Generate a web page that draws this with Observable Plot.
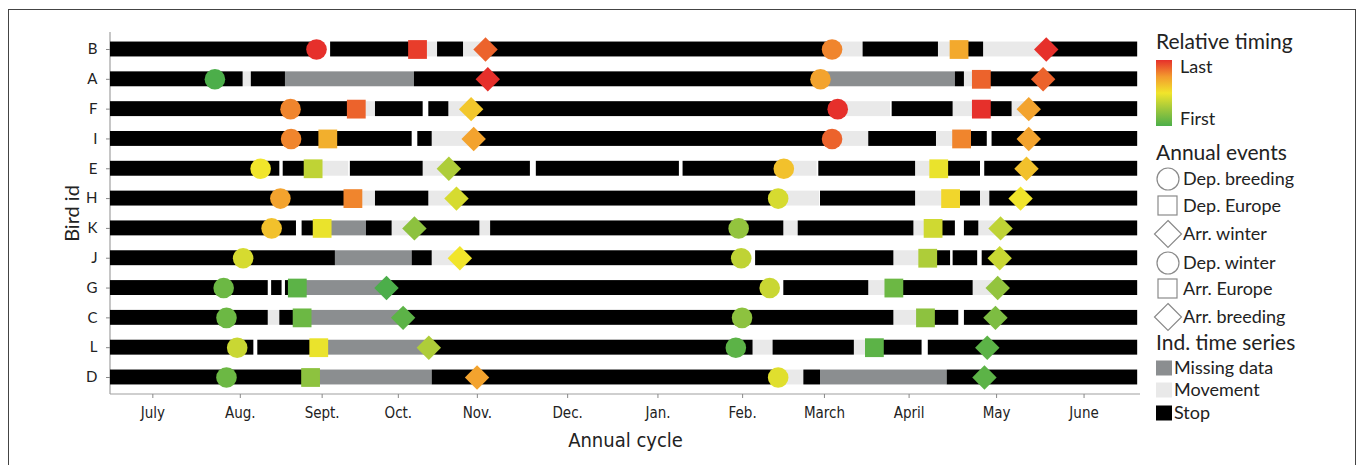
<!DOCTYPE html>
<html><head><meta charset="utf-8">
<script src="https://cdn.jsdelivr.net/npm/d3@7"></script>
<script src="https://cdn.jsdelivr.net/npm/@observablehq/plot@0.6"></script>
<style>
body{margin:0;background:#fff;width:1360px;height:465px;overflow:hidden;position:relative;font-family:Lato,"Open Sans",sans-serif;}
#frame{position:absolute;left:8px;top:9px;width:1348px;height:520px;border:1.5px solid #444;box-sizing:border-box;}
#chart{position:absolute;left:0;top:0;}
#legend{position:absolute;left:0;top:0;}
#chart svg{font-family:Lato,sans-serif;color:#222;background:transparent;}
#chart g[aria-label="y-axis tick label"] text{font-size:15px;fill:#222;}
#chart g[aria-label="y-axis label"] text{font-size:20px;fill:#222;}
#chart g[aria-label="x-axis tick label"] text{font-family:"Liberation Sans Narrow","DejaVu Sans Condensed",sans-serif;font-size:15px;fill:#222;}
#chart g[aria-label="x-axis label"] text{font-family:"Liberation Sans Narrow","DejaVu Sans Condensed",sans-serif;font-size:20px;fill:#222;}
</style></head><body>
<div id="frame"></div>
<div id="chart"></div>
<svg id="legend" width="1360" height="465"></svg>
<script>
// ---------- data ----------
const birds = ["B","A","F","I","E","H","K","J","G","C","L","D"];
const monthLabels = ["July","Aug.","Sept.","Oct.","Nov.","Dec.","Jan.","Feb.","March","April","May","June"];
const monthTickDays = [15, 46, 75, 102, 130, 162, 194, 224, 253, 283, 314, 345]; // days since 1 July
const eventTypes = ["Dep. breeding","Dep. Europe","Arr. winter","Dep. winter","Arr. Europe","Arr. breeding"];
const seriesTypes = ["Missing data","Movement","Stop"];

// segments per bird: [start day, end day, type]
const segmentsB = [[0,73.0,"Stop"],[78.0,108.8,"Stop"],[108.8,115.9,"Movement"],[115.9,125.1,"Stop"],[125.1,132.9,"Movement"],[132.9,255.7,"Stop"],[255.7,266.7,"Movement"],[266.7,293.4,"Stop"],[293.4,300.7,"Movement"],[300.7,309.4,"Stop"],[309.4,331.6,"Movement"],[331.6,364,"Stop"]];
const segmentsA = [[0,47.0,"Stop"],[47.0,49.9,"Movement"],[49.9,62.0,"Stop"],[62.0,107.7,"Missing data"],[107.7,251.6,"Stop"],[251.6,299.4,"Missing data"],[299.4,302.6,"Stop"],[302.6,308.6,"Movement"],[308.6,364,"Stop"]];
const segmentsF = [[0,87.1,"Stop"],[87.1,93.9,"Movement"],[93.9,110.8,"Stop"],[112.8,119.9,"Stop"],[119.9,127.8,"Movement"],[127.8,257.7,"Stop"],[257.7,276.4,"Movement"],[277.0,298.6,"Stop"],[298.6,308.6,"Movement"],[308.6,319.5,"Stop"],[319.5,325.4,"Movement"],[325.4,364,"Stop"]];
const segmentsI = [[0,106.9,"Stop"],[108.9,114.0,"Stop"],[114.0,128.7,"Movement"],[128.7,255.7,"Stop"],[255.7,268.7,"Movement"],[268.7,292.7,"Stop"],[292.7,301.6,"Movement"],[301.6,310.7,"Stop"],[312.4,364,"Stop"]];
const segmentsE = [[0,60.0,"Stop"],[61.2,71.8,"Stop"],[71.8,84.4,"Movement"],[85.0,110.8,"Stop"],[110.8,119.9,"Movement"],[119.9,148.8,"Stop"],[150.9,201.6,"Stop"],[202.9,238.6,"Stop"],[238.6,250.4,"Movement"],[251.0,285.3,"Stop"],[285.3,293.5,"Movement"],[293.5,308.3,"Stop"],[309.8,364,"Stop"]];
const segmentsH = [[0,85.9,"Stop"],[85.9,93.9,"Movement"],[93.9,112.8,"Stop"],[112.8,122.6,"Movement"],[122.6,236.6,"Stop"],[236.6,251.3,"Movement"],[251.6,285.3,"Stop"],[285.3,297.7,"Movement"],[297.7,308.3,"Stop"],[308.3,311.6,"Movement"],[311.6,364,"Stop"]];
const segmentsK = [[0,65.9,"Stop"],[67.9,75.0,"Stop"],[75.0,90.7,"Missing data"],[90.7,99.8,"Stop"],[99.8,107.7,"Movement"],[107.7,130.9,"Stop"],[130.9,134.7,"Movement"],[134.7,238.6,"Stop"],[238.6,243.7,"Movement"],[243.7,284.7,"Stop"],[284.7,291.5,"Movement"],[291.5,299.4,"Stop"],[302.6,307.7,"Stop"],[307.7,315.4,"Movement"],[315.4,364,"Stop"]];
const segmentsJ = [[0,79.7,"Stop"],[79.7,106.9,"Missing data"],[106.9,114.0,"Stop"],[114.0,123.8,"Movement"],[123.8,223.5,"Stop"],[228.6,277.6,"Stop"],[277.6,289.6,"Movement"],[289.6,297.7,"Stop"],[298.6,307.3,"Stop"],[308.9,364,"Stop"]];
const segmentsG = [[0,55.9,"Stop"],[57.1,60.8,"Stop"],[62.0,66.2,"Stop"],[66.2,97.8,"Missing data"],[97.8,233.6,"Stop"],[238.6,268.7,"Stop"],[268.7,277.6,"Movement"],[277.6,305.7,"Stop"],[305.7,314.4,"Movement"],[314.4,364,"Stop"]];
const segmentsC = [[0,55.9,"Stop"],[55.9,60.0,"Movement"],[60.0,67.9,"Stop"],[67.9,103.7,"Missing data"],[103.7,277.6,"Stop"],[277.6,288.8,"Movement"],[288.8,300.6,"Stop"],[302.6,364,"Stop"]];
const segmentsL = [[0,50.8,"Stop"],[52.2,73.8,"Stop"],[73.8,112.8,"Missing data"],[112.8,227.7,"Stop"],[227.7,234.8,"Movement"],[234.8,263.6,"Stop"],[263.6,270.7,"Movement"],[270.7,287.6,"Stop"],[289.8,364,"Stop"]];
const segmentsD = [[0,70.9,"Stop"],[70.9,114.0,"Missing data"],[114.0,236.6,"Stop"],[236.6,245.7,"Movement"],[245.7,251.6,"Stop"],[251.6,296.5,"Missing data"],[296.5,364,"Stop"]];

// annual events per bird: [event, day, relative timing 0 = first .. 1 = last]
const eventsB = [["Dep. breeding",73.0,1.0],["Dep. Europe",108.8,0.97],["Arr. winter",132.9,0.88],["Dep. winter",255.7,0.8],["Arr. Europe",300.7,0.7],["Arr. breeding",331.6,1.0]];
const eventsA = [["Dep. breeding",37.0,0.0],["Arr. winter",133.7,1.0],["Dep. winter",251.6,0.72],["Arr. Europe",308.6,0.88],["Arr. breeding",330.5,0.88]];
const eventsF = [["Dep. breeding",63.8,0.8],["Dep. Europe",87.1,0.88],["Arr. winter",127.8,0.6],["Dep. winter",257.7,1.0],["Arr. Europe",308.6,1.0],["Arr. breeding",325.4,0.72]];
const eventsI = [["Dep. breeding",64.0,0.8],["Dep. Europe",77.0,0.68],["Arr. winter",128.7,0.72],["Dep. winter",255.7,0.88],["Arr. Europe",301.6,0.8],["Arr. breeding",325.4,0.72]];
const eventsE = [["Dep. breeding",53.2,0.5],["Dep. Europe",71.8,0.35],["Arr. winter",119.9,0.3],["Dep. winter",238.6,0.62],["Arr. Europe",293.5,0.48],["Arr. breeding",324.6,0.62]];
const eventsH = [["Dep. breeding",60.2,0.72],["Dep. Europe",85.9,0.8],["Arr. winter",122.6,0.42],["Dep. winter",236.6,0.42],["Arr. Europe",297.7,0.55],["Arr. breeding",322.5,0.5]];
const eventsK = [["Dep. breeding",57.1,0.62],["Dep. Europe",75.0,0.48],["Arr. winter",107.7,0.2],["Dep. winter",222.6,0.22],["Arr. Europe",291.5,0.4],["Arr. breeding",315.4,0.35]];
const eventsJ = [["Dep. breeding",47.0,0.42],["Arr. winter",123.8,0.5],["Dep. winter",223.5,0.35],["Arr. Europe",289.6,0.3],["Arr. breeding",315.1,0.38]];
const eventsG = [["Dep. breeding",40.1,0.1],["Dep. Europe",66.2,0.05],["Arr. winter",97.8,0.0],["Dep. winter",233.6,0.38],["Arr. Europe",277.6,0.1],["Arr. breeding",314.4,0.22]];
const eventsC = [["Dep. breeding",41.1,0.1],["Dep. Europe",67.9,0.1],["Arr. winter",103.7,0.05],["Dep. winter",223.8,0.2],["Arr. Europe",288.8,0.2],["Arr. breeding",313.6,0.15]];
const eventsL = [["Dep. breeding",44.9,0.38],["Dep. Europe",73.8,0.48],["Arr. winter",112.8,0.3],["Dep. winter",221.6,0.05],["Arr. Europe",270.7,0.05],["Arr. breeding",310.7,0.05]];
const eventsD = [["Dep. breeding",41.1,0.1],["Dep. Europe",70.9,0.2],["Arr. winter",129.9,0.72],["Dep. winter",236.6,0.45],["Arr. breeding",309.7,0.05]];

const timingStops = [0, 0.25, 0.5, 0.75, 1];
const timingColors = ["#4cae4a","#9dc73c","#f1e52b","#f39a2e","#e6302b"];
const seriesColors = {"Missing data":"#8b8e90","Movement":"#e9e9e9","Stop":"#000000"};
const eventSymbols = {"Dep. breeding":"circle","Dep. winter":"circle","Dep. Europe":"square","Arr. Europe":"square","Arr. winter":"diamond2","Arr. breeding":"diamond2"};

// ---------- tables ----------
const segmentsByBird = {B:segmentsB,A:segmentsA,F:segmentsF,I:segmentsI,E:segmentsE,H:segmentsH,K:segmentsK,J:segmentsJ,G:segmentsG,C:segmentsC,L:segmentsL,D:segmentsD};
const eventsByBird = {B:eventsB,A:eventsA,F:eventsF,I:eventsI,E:eventsE,H:eventsH,K:eventsK,J:eventsJ,G:eventsG,C:eventsC,L:eventsL,D:eventsD};
const segs = birds.flatMap(b => segmentsByBird[b].map(([start,end,type]) => ({bird:b,start,end,type})));
const events = birds.flatMap(b => eventsByBird[b].map(([event,day,t]) => ({bird:b,event,day,t,symbol:eventSymbols[event]})));

const axisLines = (index, scales, values, dims) => {
  const g = d3.create("svg:g").attr("stroke","#a0a0a0").attr("stroke-width",1.2);
  g.append("line").attr("x1",dims.marginLeft).attr("x2",dims.marginLeft).attr("y1",dims.marginTop).attr("y2",dims.height-dims.marginBottom);
  g.append("line").attr("x1",dims.marginLeft).attr("x2",dims.width-dims.marginRight).attr("y1",dims.height-dims.marginBottom).attr("y2",dims.height-dims.marginBottom);
  return g.node();
};

const chart = Plot.plot({
  width: 1150, height: 460,
  marginLeft: 110, marginRight: 10, marginTop: 32, marginBottom: 66,
  x: {domain: [0, 365]},
  y: {domain: birds, paddingInner: 0.5, paddingOuter: 0.32, round: false},
  color: {type: "linear", domain: timingStops, range: timingColors, interpolate: "rgb"},
  marks: [
    axisLines,
    ...seriesTypes.map(type => Plot.barX(segs.filter(d => d.type === type), {x1:"start", x2:"end", y:"bird", fill: seriesColors[type]})),
    Plot.dot(events.filter(d => d.symbol === "circle"), {x:"day", y:"bird", fill:"t", r:10.3, symbol:"circle"}),
    Plot.dot(events.filter(d => d.symbol === "square"), {x:"day", y:"bird", fill:"t", r:10.6, symbol:"square"}),
    Plot.dot(events.filter(d => d.symbol === "diamond2"), {x:"day", y:"bird", fill:"t", r:11, symbol:"diamond2"}),
    Plot.axisY({tickSize: 4, tickPadding: 9, stroke:"#888", label: "Bird id", labelAnchor: "center", labelOffset: 46, labelArrow: false}),
    Plot.axisX({ticks: monthTickDays, tickFormat: d => monthLabels[monthTickDays.indexOf(d)], tickSize: 4, tickPadding: 9, stroke:"#888", label: "Annual cycle", labelAnchor: "center", labelOffset: 52, labelArrow: false})
  ]
});
document.getElementById("chart").appendChild(chart);

// ---------- legend ----------
const lg = d3.select("#legend");
const lx = 1156;
const head = (text, y) => lg.append("text").attr("x", lx).attr("y", y).attr("dy","0.35em").attr("font-size",21).attr("fill","#222").attr("font-family","Lato, sans-serif").text(text);
const item = (text, x, y) => lg.append("text").attr("x", x).attr("y", y).attr("dy","0.35em").attr("font-size",18).attr("fill","#222").attr("font-family","Lato, sans-serif").text(text);

head("Relative timing", 42);
const grad = lg.append("defs").append("linearGradient").attr("id","tg").attr("x1",0).attr("x2",0).attr("y1",1).attr("y2",0);
timingStops.forEach((s,i) => grad.append("stop").attr("offset", s).attr("stop-color", timingColors[i]));
lg.append("rect").attr("x", lx).attr("y", 60).attr("width", 16).attr("height", 66).attr("fill","url(#tg)");
item("Last", 1180, 67);
item("First", 1180, 119);

head("Annual events", 153);
const evY = [179, 206, 234, 263, 289, 317];
eventTypes.forEach((ev, i) => {
  const y = evY[i], cx = 1168, sym = eventSymbols[ev];
  const st = {fill:"#fff", stroke:"#8a8a8a", "stroke-width":1.2};
  let el;
  if (sym === "circle") el = lg.append("circle").attr("cx", cx).attr("cy", y).attr("r", 11);
  else if (sym === "square") el = lg.append("rect").attr("x", cx - 10).attr("y", y - 10).attr("width", 19).attr("height", 19);
  else el = lg.append("path").attr("d", `M${cx},${y-13.5}L${cx+13.5},${y}L${cx},${y+13.5}L${cx-13.5},${y}Z`);
  Object.entries(st).forEach(([k,v]) => el.attr(k, v));
  item(ev, 1183, y);
});

head("Ind. time series", 343);
const tsY = [368, 390, 413];
seriesTypes.forEach((s, i) => {
  lg.append("rect").attr("x", lx).attr("y", tsY[i] - 7.5).attr("width", 16).attr("height", 15).attr("fill", seriesColors[s]);
  item(s, 1174, tsY[i]);
});
</script>
</body></html>
